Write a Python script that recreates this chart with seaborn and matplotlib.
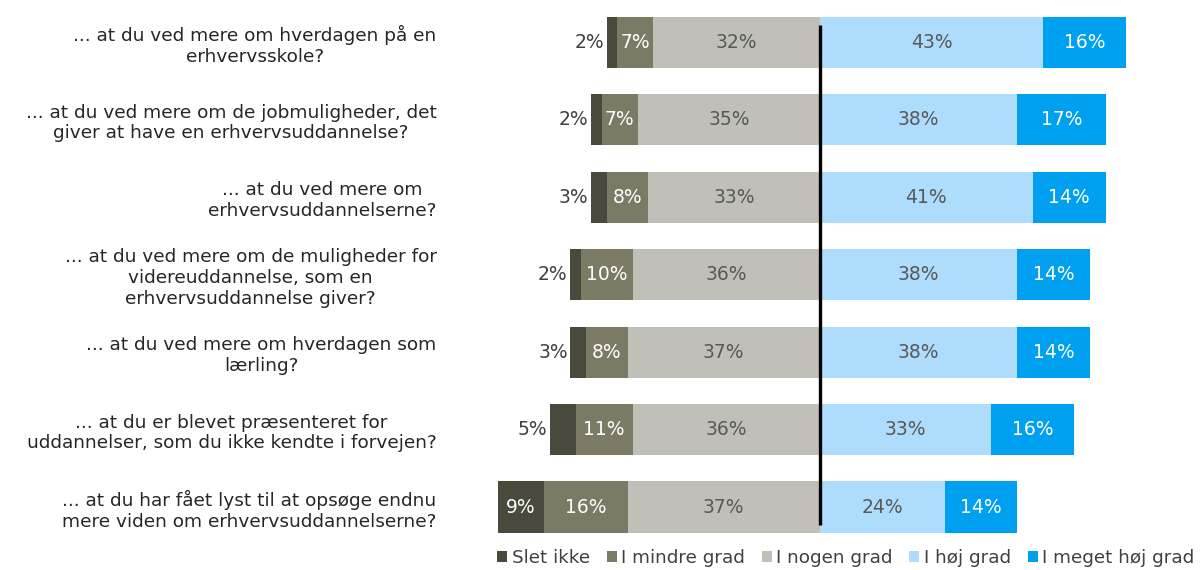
import matplotlib
matplotlib.use("Agg")
import matplotlib.pyplot as plt
from matplotlib.patches import Patch
import numpy as np
import pandas as pd
import seaborn as sns

# data
sporgsmaal = [
    "... at du ved mere om hverdagen på en\nerhvervsskole?",
    "... at du ved mere om de jobmuligheder, det\ngiver at have en erhvervsuddannelse?",
    "... at du ved mere om\nerhvervsuddannelserne?",
    "... at du ved mere om de muligheder for\nvidereuddannelse, som en\nerhvervsuddannelse giver?",
    "... at du ved mere om hverdagen som\nlærling?",
    "... at du er blevet præsenteret for\nuddannelser, som du ikke kendte i forvejen?",
    "... at du har fået lyst til at opsøge endnu\nmere viden om erhvervsuddannelserne?",
]
kategorier = ["Slet ikke", "I mindre grad", "I nogen grad", "I høj grad", "I meget høj grad"]
slet_ikke = [2, 2, 3, 2, 3, 5, 9]
mindre_grad = [7, 7, 8, 10, 8, 11, 16]
nogen_grad = [32, 35, 33, 36, 37, 36, 37]
hoej_grad = [43, 38, 41, 38, 38, 33, 24]
meget_hoej = [16, 17, 14, 14, 14, 16, 14]

farver = ["#4a4a3c", "#7a7a65", "#c0bfb8", "#addcfd", "#00a0f0"]
tekstfarver = ["white", "white", "#595959", "#595959", "white"]

df = pd.DataFrame({"spm": sporgsmaal,
                   "a": slet_ikke, "b": mindre_grad, "c": nogen_grad,
                   "d": hoej_grad, "e": meget_hoej})
df["neg_abc"] = -(df["a"] + df["b"] + df["c"])
df["neg_bc"] = -(df["b"] + df["c"])
df["neg_c"] = -df["c"]
df["pos_de"] = df["d"] + df["e"]
df["pos_d"] = df["d"]

sns.set_style("white")
plt.rcParams["font.family"] = ["DejaVu Sans"]

fig = plt.figure(figsize=(12, 5.7), dpi=100)
ax = fig.add_axes([0.38, 0.0425, 0.615, 0.9515])

bw = 0.66
for col, f in zip(["neg_abc", "neg_bc", "neg_c", "pos_de", "pos_d"],
                  [farver[0], farver[1], farver[2], farver[4], farver[3]]):
    sns.barplot(data=df, x=col, y="spm", color=f, orient="h", width=bw,
                saturation=1, ax=ax, errorbar=None, linewidth=0, edgecolor="none")

# labels
for i in range(len(sporgsmaal)):
    a, b, c, d, e = slet_ikke[i], mindre_grad[i], nogen_grad[i], hoej_grad[i], meget_hoej[i]
    segs = [(-(a + b + c), -(b + c), a), (-(b + c), -c, b), (-c, 0, c), (0, d, d), (d, d + e, e)]
    for k, (x0, x1, v) in enumerate(segs):
        if k == 0 and v <= 5:
            ax.text(x0 - 0.5, i, f"{v}%", ha="right", va="center",
                    fontsize=13.5, color="#404040")
        else:
            ax.text((x0 + x1) / 2, i, f"{v}%", ha="center", va="center",
                    fontsize=13.5, color=tekstfarver[k])

ax.vlines(0, -0.22, 6.23, color="black", lw=2.4, zorder=5)

ax.set_xlim(-70, 72)
ax.set_ylim(6.5, -0.5)
ax.set_xlabel("")
ax.set_ylabel("")
ax.set_xticks([])
ax.tick_params(axis="y", length=0, pad=14, labelsize=13.3, labelcolor="#262626")
for lab in ax.get_yticklabels():
    lab.set_multialignment("center")
sns.despine(ax=ax, left=True, bottom=True)

handles = [Patch(facecolor=f, edgecolor="none") for f in farver]
fig.legend(handles, kategorier, loc="center", bbox_to_anchor=(0.705, 0.021),
           ncol=5, frameon=False, fontsize=13.2, handlelength=0.55, handleheight=0.55,
           handletextpad=0.25, columnspacing=0.9, labelcolor="#404040")

fig.savefig("out.png", dpi=100)
